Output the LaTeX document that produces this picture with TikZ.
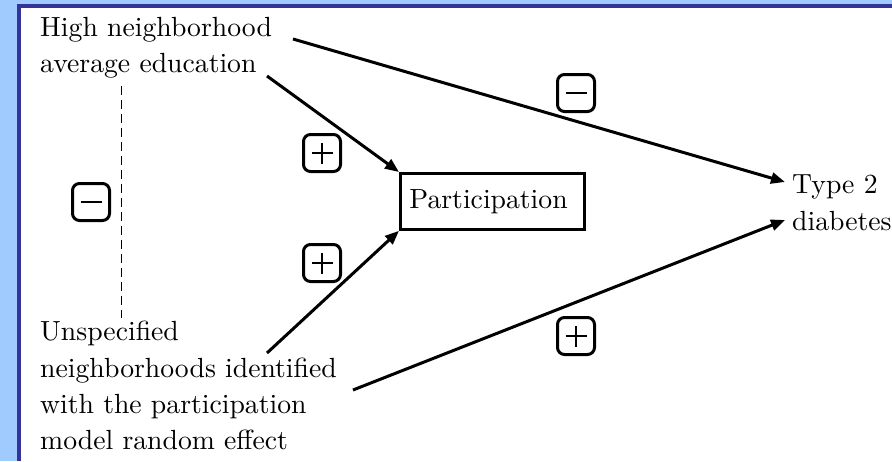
\documentclass[tikz,border=0pt]{standalone}
\usepackage{fontspec}
\newfontfamily\lmten{lmroman10-regular}[Extension=.otf]
\usetikzlibrary{arrows.meta,calc}
\definecolor{lightbg}{HTML}{9FCBFF}
\definecolor{darkframe}{HTML}{333399}
\tikzset{
  txt/.style={inner sep=0pt, anchor=north west, align=left, font=\lmten\fontsize{27.7}{36.3}\selectfont},
  arr/.style={line width=3pt, -{Triangle[length=14pt,width=11pt]}},
  signbox/.style={draw, line width=3pt, rounded corners=7pt, minimum size=37pt, inner sep=0pt},
  signline/.style={line width=2.8pt},
  dashline/.style={line width=1.8pt, dash pattern=on 9pt off 5pt}
}
\begin{document}
\begin{tikzpicture}[x=1pt,y=-1pt]
\useasboundingbox (0,0) rectangle (892,461);
\fill[lightbg] (0,0) rectangle (892,461);
\fill[darkframe] (17,4) rectangle (892,461);
\fill[white] (21,8) rectangle (892,461);

\node[txt] (hi) at (40,17) {High neighborhood\\average education};
\node[txt] (un) at (40,321) {Unspecified\\neighborhoods identified\\with the participation\\model random effect};
\node[draw, line width=2.8pt, minimum width=184pt, minimum height=56pt, inner xsep=9pt, text width=166pt, align=left, font=\lmten\fontsize{27.7}{36.3}\selectfont, anchor=north west] (part) at (399,172) {Participation};
\node[txt] (ty) at (792,175) {Type 2\\diabetes};

\coordinate (a1) at (293,39);
\coordinate (a2) at (267,76);
\coordinate (a3) at (267,353);
\coordinate (a4) at (353,390);

\draw[arr] (a1) -- ([xshift=-7pt,yshift=-7pt]ty.north west);
\draw[arr] (a2) -- (part.north west);
\draw[arr] (a3) -- (part.south west);
\draw[arr] (a4) -- ([xshift=-7pt,yshift=-45pt]ty.north west);

\draw[dashline] ([xshift=81.5pt,yshift=-7pt]hi.south west) -- ([xshift=81.5pt,yshift=3pt]un.north west);

\node[signbox] (m1) at (576,93) {};
\node[signbox] (p1) at (322,153) {};
\node[signbox] (p2) at (322,263) {};
\node[signbox] (m2) at (91,202) {};
\node[signbox] (p3) at (576,336) {};

\foreach \s in {m1,m2,p1,p2,p3}
  \draw[signline] ([xshift=-10.5pt]\s.center) -- ([xshift=10.5pt]\s.center);
\foreach \s in {p1,p2,p3}
  \draw[signline] ([yshift=-10.5pt]\s.center) -- ([yshift=10.5pt]\s.center);
\end{tikzpicture}
\end{document}
